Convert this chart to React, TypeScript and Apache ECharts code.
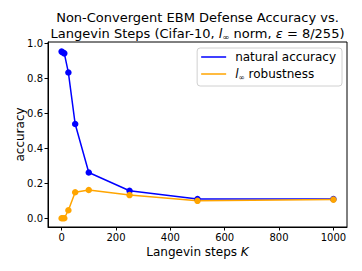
import React, { useEffect, useRef } from "react";
import * as echarts from "echarts";

const steps = [0, 5, 10, 25, 50, 100, 250, 500, 1000];
const naturalAccuracy = [0.955, 0.95, 0.945, 0.835, 0.54, 0.262, 0.158, 0.11, 0.11];
const robustness = [0.0, 0.0, 0.0, 0.046, 0.149, 0.162, 0.133, 0.1, 0.107];
const xTicks = [0, 200, 400, 600, 800, 1000];
const yTicks = [0, 0.2, 0.4, 0.6, 0.8, 1.0];
const seriesNames = ["natural accuracy", "l∞ robustness"];

const FONT = "DejaVu Sans";

export default function App() {
  const ref = useRef<HTMLDivElement>(null);
  useEffect(() => {
    document.body.style.margin = "0";
    if (!ref.current) return;
    const chart = echarts.init(ref.current, undefined, { renderer: "svg" });
    const base = { fontFamily: FONT, color: "#000", fontWeight: "normal" as const };
    chart.setOption({
      animation: false,
      backgroundColor: "#ffffff",
      textStyle: { fontFamily: FONT },
      title: {
        text:
          "{a|Non-Convergent EBM Defense Accuracy vs.}\n{a|Langevin Steps (Cifar-10, }{i|l}{s|∞}{a| norm, }{i|ε}{a| = 8/255)}",
        left: 197.5,
        textAlign: "center",
        top: 9,
        padding: 0,
        textStyle: {
          fontWeight: "normal",
          rich: {
            a: { ...base, fontSize: 13, lineHeight: 16 },
            i: { ...base, fontSize: 13, fontStyle: "italic", lineHeight: 16 },
            s: { ...base, fontSize: 8.5, lineHeight: 16, verticalAlign: "bottom", padding: [4, 0, 0, 0] },
          },
        },
      },
      legend: {
        data: seriesNames,
        orient: "vertical",
        right: 20,
        top: 48,
        itemWidth: 25,
        itemHeight: 1.5,
        itemGap: 5,
        icon: "rect",
        padding: [3, 6, 5, 4],
        borderColor: "#d0d0d0",
        borderWidth: 1,
        borderRadius: 3,
        backgroundColor: "rgba(255,255,255,0.8)",
        formatter: (name: string) =>
          name === seriesNames[1] ? "{p|}{i|l}{s|∞}{t| robustness}" : "{p|}{t|" + name + "}",
        textStyle: {
          rich: {
            p: { width: 4, lineHeight: 14 },
            t: { ...base, fontSize: 12, lineHeight: 14 },
            i: { ...base, fontSize: 12, fontStyle: "italic", lineHeight: 14 },
            s: { ...base, fontSize: 7.5, verticalAlign: "bottom", lineHeight: 14, padding: [5, 0, 0, 0] },
          },
        },
      },
      grid: {
        left: 48,
        right: 15,
        top: 42,
        bottom: 44,
        show: true,
        borderColor: "#000",
        borderWidth: 1,
        containLabel: false,
      },
      xAxis: {
        type: "value",
        min: -50,
        max: 1050,
        name: "{t|Langevin steps }{i|K}",
        nameLocation: "middle",
        nameGap: 19,
        nameMoveOverlap: false,
        nameTextStyle: {
          rich: {
            t: { ...base, fontSize: 12 },
            i: { ...base, fontSize: 12, fontStyle: "italic" },
          },
        },
        axisLine: { show: true, onZero: false, lineStyle: { color: "#000", width: 1 } },
        axisTick: { show: true, length: 3.5, lineStyle: { color: "#000" }, customValues: xTicks },
        axisLabel: {
          customValues: xTicks,
          fontFamily: FONT,
          fontSize: 10,
          color: "#000",
          margin: 5,
          formatter: (v: number) => String(v),
        },
        splitLine: { show: false },
      },
      yAxis: {
        type: "value",
        min: -0.05,
        max: 1.01,
        name: "accuracy",
        nameLocation: "middle",
        nameGap: 22,
        nameMoveOverlap: false,
        nameTextStyle: { ...base, fontSize: 12 },
        axisLine: { show: true, onZero: false, lineStyle: { color: "#000", width: 1 } },
        axisTick: { show: true, length: 3.5, lineStyle: { color: "#000" }, customValues: yTicks },
        axisLabel: {
          customValues: yTicks,
          fontFamily: FONT,
          fontSize: 10,
          color: "#000",
          margin: 5,
          formatter: (v: number) => v.toFixed(1),
        },
        splitLine: { show: false },
      },
      series: [
        {
          name: seriesNames[0],
          type: "line",
          data: steps.map((s, i) => [s, naturalAccuracy[i]]),
          symbol: "circle",
          symbolSize: 6.5,
          showAllSymbol: true,
          lineStyle: { color: "#0000ff", width: 1.5 },
          itemStyle: { color: "#0000ff" },
        },
        {
          name: seriesNames[1],
          type: "line",
          data: steps.map((s, i) => [s, robustness[i]]),
          symbol: "circle",
          symbolSize: 6.5,
          showAllSymbol: true,
          lineStyle: { color: "#ffa500", width: 1.5 },
          itemStyle: { color: "#ffa500" },
        },
      ],
    });
    return () => chart.dispose();
  }, []);
  return <div ref={ref} style={{ width: 362, height: 271 }} />;
}
